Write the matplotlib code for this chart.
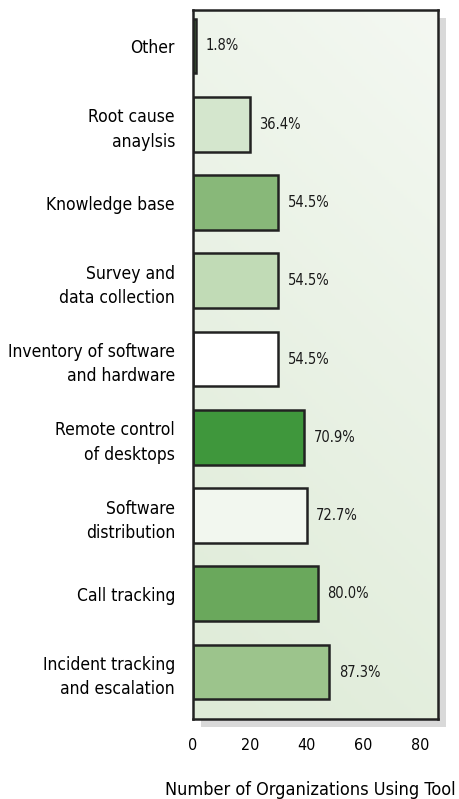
import matplotlib

matplotlib.use("Agg")

import matplotlib.pyplot as plt
import numpy as np
from matplotlib.colors import LinearSegmentedColormap
from matplotlib.patches import Rectangle

plt.rcParams["font.family"] = ["DejaVu Sans"]
plt.rcParams["font.stretch"] = "condensed"

# Bottom-to-top order
categories = [
    "Incident tracking\nand escalation",
    "Call tracking",
    "Software\ndistribution",
    "Remote control\nof desktops",
    "Inventory of software\nand hardware",
    "Survey and\ndata collection",
    "Knowledge base",
    "Root cause\nanaylsis",
    "Other",
]
counts = [48, 44, 40, 39, 30, 30, 30, 20, 1]
pct_labels = ["87.3%", "80.0%", "72.7%", "70.9%", "54.5%", "54.5%", "54.5%", "36.4%", "1.8%"]
bar_colors = ["#9cc48c", "#6aa85c", "#f2f7ef", "#3f973c", "#ffffff",
              "#c1dbb6", "#88b879", "#d4e6cd", "#5ea84f"]
x_ticks = [0, 20, 40, 60, 80]

fig = plt.figure(figsize=(4.59, 7.99), dpi=100)
ax = fig.add_axes([193 / 459, 1 - 719 / 799, 245 / 459, 709 / 799])
x_max = 245 / 2.84

# drop shadow behind the plot frame
fig.patches.append(Rectangle((201 / 459, 1 - 727 / 799), 245 / 459, 709 / 799,
                             transform=fig.transFigure, facecolor="#d9d9d9",
                             edgecolor="none", zorder=0))
ax.set_zorder(1)

# soft gradient for the plot background, greener toward the bottom-left
gx, gy = np.meshgrid(np.linspace(0, 1, 200), np.linspace(0, 1, 200))
grad = 0.75 * gy + 0.25 * (1 - gx)
cmap = LinearSegmentedColormap.from_list("bg", ["#f4f8f2", "#deebd7"])
ax.imshow(grad, extent=[0, x_max, -0.6, 8.46], cmap=cmap, aspect="auto",
          origin="upper", zorder=0)

y = np.arange(len(categories))
ax.barh(y, counts, height=0.7, color=bar_colors, edgecolor="#222222",
        linewidth=1.8, zorder=2)
for yi, c, lab in zip(y, counts, pct_labels):
    ax.text(c + 3.4, yi, lab, va="center", ha="left", fontsize=10.5, color="#1a1a1a")

ax.set_xlim(0, x_max)
ax.set_ylim(-0.6, 8.46)
ax.set_yticks(y)
ax.set_yticklabels(categories, fontsize=12.5, color="#000000", linespacing=1.45)
ax.set_xticks(x_ticks)
ax.set_xticklabels([str(t) for t in x_ticks], fontsize=11.5, color="#000000")
ax.tick_params(length=0, pad=14)
ax.tick_params(axis="y", pad=13)
for s in ax.spines.values():
    s.set_linewidth(1.8)
    s.set_color("#222222")

fig.text(456 / 459, 1 - 790 / 799, "Number of Organizations Using Tool",
         ha="right", va="center", fontsize=13, color="#000000")

fig.savefig("out.png", dpi=100)
